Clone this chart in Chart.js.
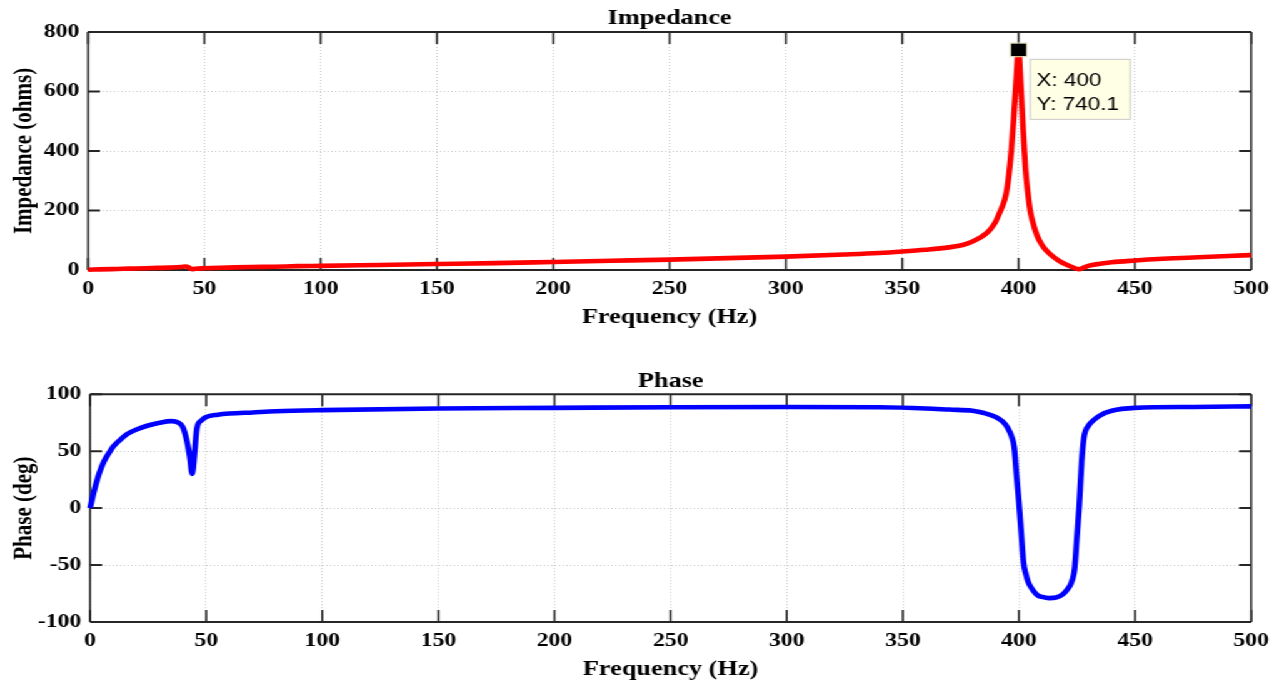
<!DOCTYPE html>
<html>
<head>
<meta charset="utf-8">
<script src="https://cdn.jsdelivr.net/npm/chart.js"></script>
<style>
  body { margin: 0; background: #fff; overflow: hidden; }
  /* the source figure is stretched horizontally, so draw narrow and stretch */
  #wrap { position: absolute; left: 0; top: 0; width: 1023px; height: 682px;
          transform: scaleX(1.25024); transform-origin: 0 0; }
  .pane { position: absolute; left: 0; width: 1023px; height: 341px; }
</style>
</head>
<body>
<div id="wrap">
  <div class="pane" style="top:0"><canvas id="imp" width="1023" height="341"></canvas></div>
  <div class="pane" style="top:341px"><canvas id="ph" width="1023" height="341"></canvas></div>
</div>
<script>
// impedance magnitude
var freqZ = [0,5,10,15,20,25,30,35,40,42,43,44,45,46,48,50,60,70,80,90,100,125,150,175,200,225,250,275,300,325,340,350,360,370,376,380,383,386,388,390,392,394,395,396,397,398,399,400,401,402,403,404,405,406,408,410,412,415,418,420,423,426,428,430,435,440,450,460,475,490,500];
var impedance = [1,2,3,4,5,6,7,8,10,12,10,5,3,4,5,6,8,10,11,13,14,17,20,23,27,31,35,40,45,52,57,62,68,76,84,95,107,122,138,160,195,235,270,330,410,520,640,740.1,620,470,340,260,200,165,115,85,65,44,28,20,10,3,8,14,21,26,32,37,42,47,50];

// phase
var freqP = [0,2,4,6,8,10,13,16,20,25,30,35,38,40,42,43,44,45,46,48,50,55,60,70,80,100,150,200,250,300,340,360,370,380,385,390,393,395,397,398,399,400,401,402,403,404,406,408,410,413,416,419,421,422,423,424,425,426,427,428,430,432,435,440,450,475,500];
var phase = [0,17,31,41,48,54,60,65,69,72.5,75,76.4,75,71,56,44,30,48,70,77,80,82,83,84,85,86,87.5,88,88.5,88.7,88.5,87.5,86.5,85.5,83.5,80,76,71,62,53,28,5,-22,-48,-58,-65,-72,-76.5,-78,-79,-78.5,-75.5,-71,-68,-63,-53,-25,3,40,62,72.5,77,81.5,85.5,88,88.8,89.3];

var freqTicks = [0,50,100,150,200,250,300,350,400,450,500];
var impTicks = [0,200,400,600,800];
var phaseTicks = [-100,-50,0,50,100];

// data tip
var tipX = 400, tipY = 740.1;

var serif = 'Liberation Serif, Times New Roman, serif';

function pts(xs, ys) {
  return xs.map(function (x, i) { return { x: x, y: ys[i] }; });
}

// MATLAB style box with inward ticks
var boxPlugin = {
  id: 'matBox',
  beforeDatasetsDraw: function (chart, args, opts) {
    var ctx = chart.ctx, a = chart.chartArea;
    var xs = chart.scales.x, ys = chart.scales.y;
    ctx.save();
    ctx.strokeStyle = '#262626';
    ctx.lineWidth = 1.6;
    opts.xt.forEach(function (v) {
      var px = xs.getPixelForValue(v);
      ctx.beginPath();
      ctx.moveTo(px, a.bottom); ctx.lineTo(px, a.bottom - 12);
      ctx.moveTo(px, a.top); ctx.lineTo(px, a.top + 12);
      ctx.stroke();
    });
    ctx.lineWidth = 2;
    opts.yt.forEach(function (v) {
      var py = ys.getPixelForValue(v);
      ctx.beginPath();
      ctx.moveTo(a.left, py); ctx.lineTo(a.left + 9.6, py);
      ctx.moveTo(a.right, py); ctx.lineTo(a.right - 9.6, py);
      ctx.stroke();
    });
    ctx.lineWidth = 2;
    ctx.beginPath();
    ctx.moveTo(a.left, a.top); ctx.lineTo(a.right, a.top);
    ctx.moveTo(a.left, a.bottom); ctx.lineTo(a.right, a.bottom);
    ctx.stroke();
    ctx.lineWidth = 1.6;
    ctx.beginPath();
    ctx.moveTo(a.left, a.top); ctx.lineTo(a.left, a.bottom);
    ctx.moveTo(a.right, a.top); ctx.lineTo(a.right, a.bottom);
    ctx.stroke();
    ctx.restore();
  }
};

var tipPlugin = {
  id: 'dataTip',
  afterDatasetsDraw: function (chart, args, opts) {
    if (!opts.show) return;
    var ctx = chart.ctx;
    var px = chart.scales.x.getPixelForValue(tipX);
    var py = chart.scales.y.getPixelForValue(tipY);
    ctx.save();
    ctx.fillStyle = '#000';
    ctx.fillRect(px - 6.2, py - 6.4, 12.4, 12.8);
    ctx.strokeStyle = '#e8e4c0';
    ctx.lineWidth = 1;
    ctx.strokeRect(px - 6.7, py - 6.9, 13.4, 13.8);
    var bx = px + 9.4, by = py + 9.5;
    ctx.fillStyle = '#ffffe6';
    ctx.fillRect(bx, by, 80, 60);
    ctx.strokeStyle = '#c8c8c8';
    ctx.strokeRect(bx, by, 80, 60);
    ctx.fillStyle = '#000';
    ctx.font = '18px "Liberation Sans", Arial, sans-serif';
    ctx.textBaseline = 'alphabetic';
    ctx.fillText('X: ' + tipX, bx + 4.8, by + 26.5);
    ctx.fillText('Y: ' + tipY, bx + 4.8, by + 50.5);
    ctx.restore();
  }
};

function makeChart(id, cfg) {
  return new Chart(document.getElementById(id), {
    type: 'line',
    data: {
      datasets: [{
        data: pts(cfg.xs, cfg.ys),
        borderColor: cfg.color,
        borderWidth: 4.6,
        pointRadius: 0,
        cubicInterpolationMode: 'monotone',
        clip: 6
      }]
    },
    options: {
      responsive: false,
      animation: false,
      events: [],
      layout: { padding: { left: 0, right: 22, top: 0, bottom: cfg.padBottom } },
      plugins: {
        legend: { display: false },
        tooltip: { enabled: false },
        title: {
          display: true,
          text: cfg.title,
          fullSize: false,
          color: '#000',
          font: { family: serif, size: 21, weight: 'bold' },
          padding: { top: cfg.titleTop, bottom: cfg.titleBottom }
        },
        matBox: { xt: freqTicks, yt: cfg.yTicks },
        dataTip: { show: cfg.tip }
      },
      scales: {
        x: {
          type: 'linear',
          min: 0, max: 500,
          afterBuildTicks: function (s) { s.ticks = freqTicks.map(function (v) { return { value: v }; }); },
          afterFit: function (s) { s.height = 60; },
          grid: { color: '#c8c8c8', drawTicks: false },
          border: { display: false, dash: [1, 2] },
          ticks: { color: '#000', padding: 8, maxRotation: 0, font: { family: serif, size: 19, weight: 'bold' } },
          title: {
            display: true, text: 'Frequency (Hz)', color: '#000',
            font: { family: serif, size: 21, weight: 'bold' },
            padding: { top: 0, bottom: 0 }
          }
        },
        y: {
          type: 'linear',
          min: cfg.yMin, max: cfg.yMax,
          afterBuildTicks: function (s) { s.ticks = cfg.yTicks.map(function (v) { return { value: v }; }); },
          afterFit: function (s) { s.width = cfg.yWidth; },
          grid: { color: '#c8c8c8', drawTicks: false },
          border: { display: false, dash: [1, 2] },
          ticks: { color: '#000', padding: 7, font: { family: serif, size: 19, weight: 'bold' } },
          title: {
            display: true, text: cfg.yTitle, color: '#000',
            font: { family: serif, size: 21, weight: 'bold' },
            padding: { top: 7, bottom: 0 }
          }
        }
      }
    },
    plugins: [boxPlugin, tipPlugin]
  });
}

makeChart('imp', {
  xs: freqZ, ys: impedance, color: '#ff0000',
  title: 'Impedance', titleTop: 6, titleBottom: 0.8,
  yTitle: 'Impedance (ohms)', yMin: 0, yMax: 800, yTicks: impTicks,
  yWidth: 70.4, padBottom: 11, tip: true
});

makeChart('ph', {
  xs: freqP, ys: phase, color: '#0000ff',
  title: 'Phase', titleTop: 28, titleBottom: 0,
  yTitle: 'Phase (deg)', yMin: -100, yMax: 100, yTicks: phaseTicks,
  yWidth: 72, padBottom: 0, tip: false
});
</script>
</body>
</html>
